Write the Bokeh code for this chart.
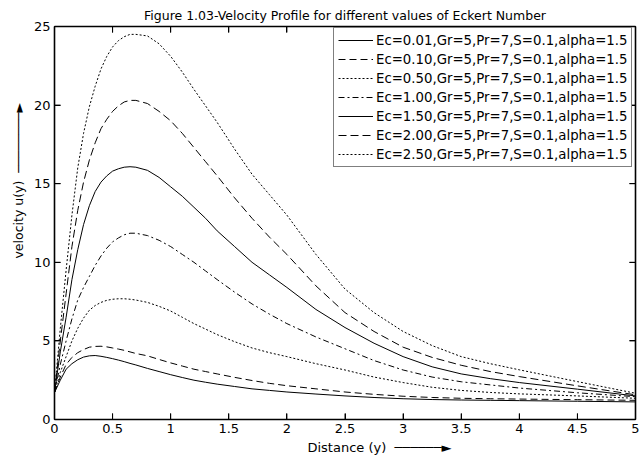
from bokeh.plotting import figure
from bokeh.models import Range1d, FixedTicker, LinearAxis, Label, Legend, LegendItem
from bokeh.embed import file_html
from bokeh.resources import INLINE

title_text = "Figure 1.03-Velocity Profile for different values of Eckert Number"
x_label = "Distance (y)"
y_label = "velocity u(y)"

x_ticks = [0, 0.5, 1, 1.5, 2, 2.5, 3, 3.5, 4, 4.5, 5]
x_tick_labels = ["0", "0.5", "1", "1.5", "2", "2.5", "3", "3.5", "4", "4.5", "5"]
y_ticks = [0, 5, 10, 15, 20, 25]
y_tick_labels = ["0", "5", "10", "15", "20", "25"]

distance = [0, 0.05, 0.1, 0.15, 0.2, 0.25, 0.3, 0.35, 0.4, 0.45,
            0.5, 0.55, 0.6, 0.65, 0.7, 0.8, 0.9, 1.0, 1.1, 1.2, 1.3, 1.4,
            1.55, 1.7, 1.85, 2.0, 2.25, 2.5, 2.75, 3.0, 3.25, 3.5, 3.75, 4.0, 4.5, 5.0]

u_ec001 = [1.72, 2.5, 3.2, 3.55, 3.8, 3.97, 4.05, 4.07, 4.02, 3.95,
           3.87, 3.78, 3.68, 3.57, 3.47, 3.25, 3.05, 2.85, 2.67, 2.5, 2.37, 2.25,
           2.1, 1.95, 1.85, 1.75, 1.62, 1.5, 1.4, 1.32, 1.27, 1.24, 1.22, 1.2, 1.16, 1.12]
u_ec010 = [1.72, 2.7, 3.5, 3.95, 4.25, 4.45, 4.6, 4.65, 4.66, 4.62,
           4.55, 4.48, 4.4, 4.3, 4.2, 4.05, 3.82, 3.6, 3.4, 3.2, 3.05, 2.9,
           2.68, 2.48, 2.3, 2.15, 1.95, 1.75, 1.6, 1.48, 1.4, 1.35, 1.32, 1.3, 1.26, 1.22]
u_ec050 = [1.72, 3.0, 4.0, 5.0, 5.8, 6.45, 6.95, 7.25, 7.45, 7.58,
           7.65, 7.68, 7.68, 7.65, 7.6, 7.45, 7.2, 6.9, 6.5, 6.1, 5.75, 5.4,
           4.95, 4.55, 4.25, 4.0, 3.55, 3.15, 2.7, 2.35, 2.05, 1.85, 1.72, 1.63, 1.5, 1.35]
u_ec100 = [1.72, 3.5, 5.0, 6.4, 7.6, 8.4, 9.1, 9.8, 10.4, 10.9,
           11.3, 11.55, 11.75, 11.85, 11.85, 11.7, 11.4, 11.0, 10.5, 10.0, 9.45, 8.9,
           8.1, 7.35, 6.7, 6.1, 5.25, 4.5, 3.75, 3.15, 2.7, 2.4, 2.2, 2.0, 1.7, 1.45]
u_ec150 = [1.72, 4.3, 6.5, 8.9, 10.8, 12.4, 13.6, 14.5, 15.1, 15.5,
           15.8, 15.95, 16.05, 16.08, 16.05, 15.85, 15.4, 14.8, 14.2, 13.5, 12.8, 12.0,
           11.0, 10.0, 9.2, 8.4, 7.0, 5.85, 4.85, 4.0, 3.35, 2.9, 2.6, 2.35, 1.93, 1.5]
u_ec200 = [1.72, 5.0, 8.0, 11.0, 13.3, 15.1, 16.5, 17.6, 18.5, 19.1,
           19.6, 19.95, 20.2, 20.3, 20.3, 20.1, 19.6, 19.0, 18.2, 17.3, 16.4, 15.5,
           14.1, 12.8, 11.6, 10.5, 8.5, 6.8, 5.6, 4.6, 3.95, 3.45, 3.05, 2.73, 2.14, 1.57]
u_ec250 = [1.72, 5.8, 9.5, 13.0, 16.0, 18.2, 19.9, 21.2, 22.3, 23.1,
           23.7, 24.1, 24.35, 24.5, 24.5, 24.4, 23.9, 23.1, 22.1, 21.0, 19.95, 18.9,
           17.2, 15.6, 14.3, 13.0, 10.5, 8.3, 6.8, 5.6, 4.7, 4.0, 3.55, 3.16, 2.41, 1.67]

legend_labels = [
    "Ec=0.01,Gr=5,Pr=7,S=0.1,alpha=1.5",
    "Ec=0.10,Gr=5,Pr=7,S=0.1,alpha=1.5",
    "Ec=0.50,Gr=5,Pr=7,S=0.1,alpha=1.5",
    "Ec=1.00,Gr=5,Pr=7,S=0.1,alpha=1.5",
    "Ec=1.50,Gr=5,Pr=7,S=0.1,alpha=1.5",
    "Ec=2.00,Gr=5,Pr=7,S=0.1,alpha=1.5",
    "Ec=2.50,Gr=5,Pr=7,S=0.1,alpha=1.5",
]
series = [u_ec001, u_ec010, u_ec050, u_ec100, u_ec150, u_ec200, u_ec250]
dashes = ["solid", "7 4", "2 2", "6 3 2 3", "solid", "8 4", "2 2"]

FONT = "DejaVu Sans"
TICK_X = 0.052   # inward tick length (about 6 px) in x data units
TICK_Y = 0.38    # inward tick length (about 6 px) in y data units

p = figure(width=644, height=461, output_backend="svg", toolbar_location=None,
           x_range=Range1d(0, 5), y_range=Range1d(0, 25),
           min_border_left=54, min_border_right=9, min_border_top=26, min_border_bottom=42)
p.title.text = title_text
p.title.align = "center"
p.title.text_font = FONT
p.title.text_font_size = "12.5px"
p.title.text_font_style = "normal"
p.title.text_color = "black"
p.title.standoff = 8
p.grid.visible = False
p.outline_line_color = "black"
p.outline_line_width = 1
p.background_fill_color = "white"
p.border_fill_color = "white"


def style_axis(ax, ticks, labels, show_labels=True):
    ax.ticker = FixedTicker(ticks=ticks)
    ax.major_label_overrides = dict(zip(ticks, labels))
    ax.major_tick_in = 6
    ax.major_tick_out = 0
    ax.major_tick_line_width = 1
    ax.minor_tick_line_color = None
    ax.axis_line_color = "black"
    ax.axis_line_width = 1.6
    ax.major_tick_line_color = "black"
    ax.major_label_text_font = FONT
    ax.major_label_text_color = "black"
    if show_labels:
        ax.major_label_text_font_size = "13px"
        ax.major_label_standoff = 4
    else:
        ax.major_label_text_font_size = "0px"
        ax.major_label_standoff = 0


style_axis(p.xaxis[0], x_ticks, x_tick_labels)
style_axis(p.yaxis[0], y_ticks, y_tick_labels)

top_ax = LinearAxis()
style_axis(top_ax, x_ticks, [""] * len(x_ticks), show_labels=False)
p.add_layout(top_ax, "above")
right_ax = LinearAxis()
style_axis(right_ax, y_ticks, [""] * len(y_ticks), show_labels=False)
p.add_layout(right_ax, "right")

items = []
for lab, ys, d in zip(legend_labels, series, dashes):
    r = p.line(distance, ys, line_color="black", line_width=1, line_dash=d)
    items.append(LegendItem(label=lab, renderers=[r]))

# inward tick marks on all four sides of the box, from the tick lists
for tx in x_ticks:
    p.line([tx, tx], [0, TICK_Y], line_color="black", line_width=1)
    p.line([tx, tx], [25, 25 - TICK_Y], line_color="black", line_width=1)
for ty in y_ticks:
    p.line([0, TICK_X], [ty, ty], line_color="black", line_width=1)
    p.line([5, 5 - TICK_X], [ty, ty], line_color="black", line_width=1)

legend = Legend(items=items, location=(279, 252))
legend.label_text_font = FONT
legend.label_text_font_size = "13.3px"
legend.label_text_color = "black"
legend.glyph_width = 35
legend.glyph_height = 16
legend.label_height = 16
legend.label_standoff = 3
legend.spacing = 3
legend.padding = 4
legend.margin = 0
legend.border_line_color = "black"
legend.border_line_width = 1.3
legend.background_fill_color = "white"
legend.background_fill_alpha = 1
p.add_layout(legend)

# axis titles with their arrows, placed in the side panels (outside the frame)
gap = "\u00a0\u00a0"
xlab = Label(x=2.177, y=-1.78, text=x_label + gap + "\u2500" * 6 + "\u25BA",
             text_font=FONT, text_font_size="13px", text_color="black",
             text_align="left", text_baseline="middle")
p.add_layout(xlab, "below")
ylab = Label(x=-0.31, y=10.24, text=y_label + gap + "\u2500" * 8 + "\u25BA",
             text_font=FONT, text_font_size="12.5px", text_color="black",
             text_align="left", text_baseline="middle", angle=90, angle_units="deg")
p.add_layout(ylab, "left")

open("out.html", "w").write(file_html(p, INLINE))
